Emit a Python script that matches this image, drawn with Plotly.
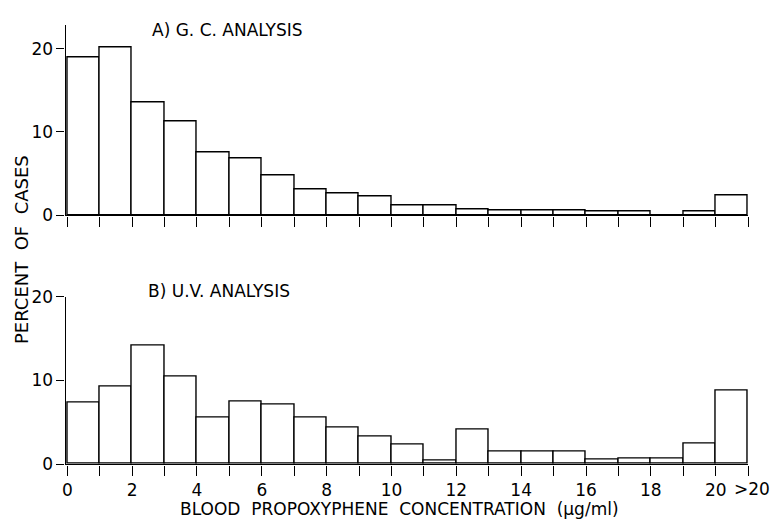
import plotly.graph_objects as go

# bins: [i, i+1) for i = 0..19, plus ">20" bin drawn at 20..21
bin_left = list(range(21))
gc_values = [18.9, 20.2, 13.5, 11.2, 7.5, 6.8, 4.8, 3.1, 2.6, 2.2,
             1.2, 1.1, 0.7, 0.6, 0.6, 0.6, 0.4, 0.4, 0.0, 0.4, 2.4]
uv_values = [7.4, 9.3, 14.2, 10.4, 5.6, 7.5, 7.1, 5.5, 4.3, 3.3,
             2.3, 0.4, 4.1, 1.5, 1.5, 1.5, 0.5, 0.6, 0.6, 2.4, 8.8]
x_tick_vals = list(range(22))
x_tick_text = [str(v) if (v % 2 == 0 and v <= 20) else "" for v in x_tick_vals]
y_tick_vals = [0, 10, 20]

FONT = "DejaVu Sans"
W, H = 770, 528

def py(p):
    return 1 - p / H

fig = go.Figure()
centers = [b + 0.5 for b in bin_left]
for vals, xa, ya in [(gc_values, "x", "y"), (uv_values, "x2", "y2")]:
    fig.add_trace(go.Bar(
        x=centers, y=vals, width=1.0, xaxis=xa, yaxis=ya,
        marker=dict(color="white", line=dict(color="black", width=1.4)),
        showlegend=False, hoverinfo="x+y"))

xdom = [62 / W, 748 / W]
common_x = dict(range=[-0.05, 21], domain=xdom, showline=False,
                ticks="outside", ticklen=10, tickwidth=1.4,
                tickcolor="black", tickvals=x_tick_vals, showgrid=False,
                zeroline=False, fixedrange=True)
common_y = dict(showline=True, linecolor="black", linewidth=1.4,
                ticks="outside", ticklen=8, tickwidth=1.4, tickcolor="black",
                tickvals=y_tick_vals, showgrid=False, zeroline=True,
                zerolinecolor="black", zerolinewidth=1.4,
                tickfont=dict(family=FONT, size=17, color="black"),
                fixedrange=True)

fig.update_layout(
    width=W, height=H, margin=dict(l=0, r=0, t=0, b=0),
    paper_bgcolor="white", plot_bgcolor="white", bargap=0,
    xaxis=dict(**common_x, anchor="y", showticklabels=False),
    yaxis=dict(**common_y, range=[-0.08, 22.8], domain=[py(213.4), py(16)], anchor="x"),
    xaxis2=dict(**common_x, anchor="y2", ticktext=x_tick_text,
                tickfont=dict(family=FONT, size=17, color="black")),
    yaxis2=dict(**common_y, range=[-0.08, 20], domain=[py(471.7), py(297.3)], anchor="x2"),
)

ann = [
    dict(text="A) G. C. ANALYSIS", x=147 / W, y=py(21), xref="paper", yref="paper",
         xanchor="left", yanchor="middle", showarrow=False,
         font=dict(family=FONT, size=17, color="black")),
    dict(text="B) U.V. ANALYSIS", x=143 / W, y=py(291), xref="paper", yref="paper",
         xanchor="left", yanchor="middle", showarrow=False,
         font=dict(family=FONT, size=17, color="black")),
    dict(text="PERCENT  OF  CASES", x=17 / W, y=py(248), xref="paper", yref="paper",
         xanchor="center", yanchor="middle", textangle=-90, showarrow=False,
         font=dict(family=FONT, size=18, color="black")),
    dict(text="BLOOD  PROPOXYPHENE  CONCENTRATION  (μg/ml)", x=398 / W, y=py(518),
         xref="paper", yref="paper", xanchor="center", yanchor="middle",
         showarrow=False, font=dict(family=FONT, size=17, color="black")),
    dict(text=">20", x=21, y=0, xref="x2", yref="y2", xanchor="center", yanchor="top",
         xshift=4, yshift=-13, showarrow=False,
         font=dict(family=FONT, size=17, color="black")),
]
fig.update_layout(annotations=ann)

fig.write_html("out.html")
